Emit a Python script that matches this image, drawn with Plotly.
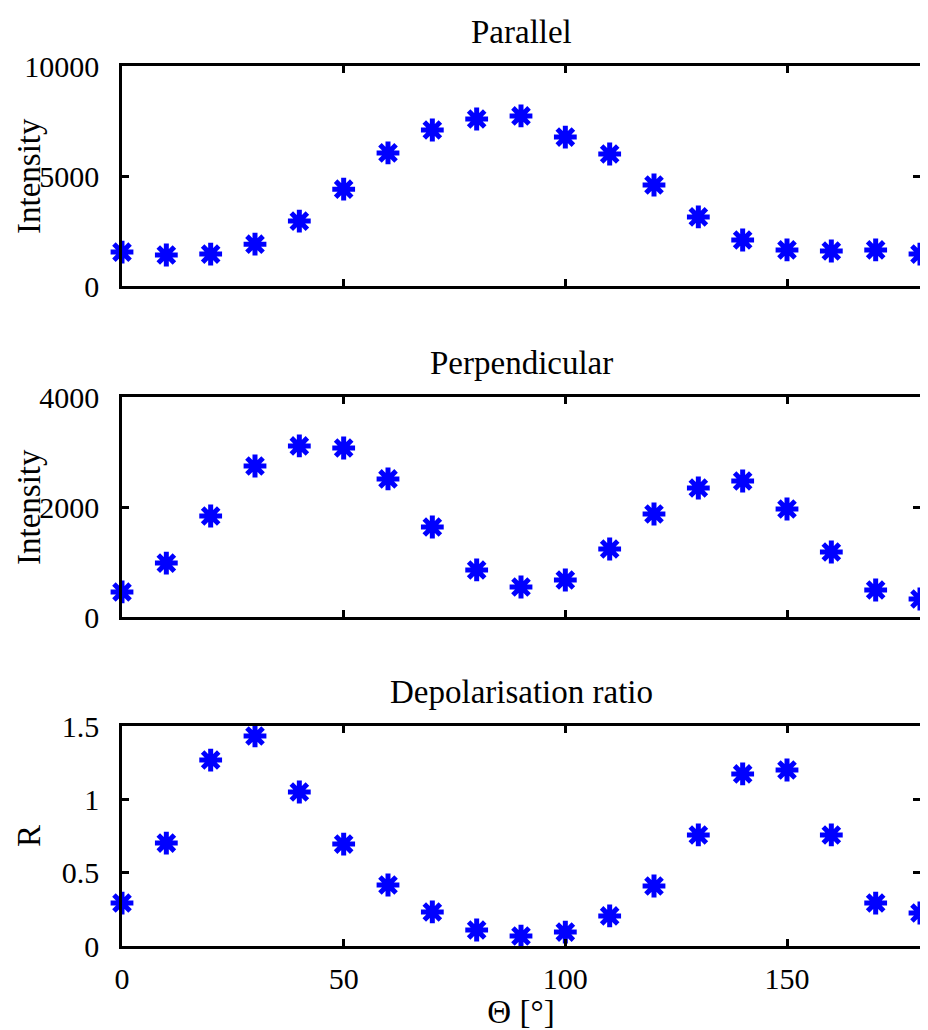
import plotly.graph_objects as go

theta = [0, 10, 20, 30, 40, 50, 60, 70, 80, 90, 100, 110, 120, 130, 140, 150, 160, 170, 180]
parallel = [1540, 1410, 1450, 1900, 2950, 4400, 6050, 7090, 7590, 7730, 6770, 6000, 4590, 3140, 2090, 1640, 1590, 1640, 1450]
perpendicular = [455, 980, 1836, 2745, 3110, 3073, 2510, 1636, 855, 545, 673, 1236, 1873, 2345, 2473, 1964, 1182, 491, 327]
ratio = [0.293, 0.702, 1.268, 1.432, 1.05, 0.695, 0.416, 0.232, 0.109, 0.068, 0.095, 0.205, 0.409, 0.757, 1.173, 1.2, 0.757, 0.293, 0.225]

titles = ["Parallel", "Perpendicular", "Depolarisation ratio"]
ylabels = ["Intensity", "Intensity", "R"]
yranges = [[0, 10000], [0, 4000], [0, 1.5]]
yticks = [[0, 5000, 10000], [0, 2000, 4000], [0, 0.5, 1, 1.5]]
yticktext = [["0", "5000", "10000"], ["0", "2000", "4000"], ["0", "0.5", "1", "1.5"]]
xticks = [0, 50, 100, 150]
xlabel = "Θ [°]"

FONT = "Liberation Serif"
TICK = 30
LAB = 33
fig = go.Figure()

# page has an 8px body margin; figure is 920x1022 so it fits the window
H = 1022
T, B = 58, 84
ph = H - T - B  # 880
def dom(top_abs, bot_abs):
    top = 1 - (top_abs - 8 - T) / ph
    bot = 1 - (bot_abs - 8 - T) / ph
    return [max(0.0, bot), min(1.0, top)]

domains = [dom(66, 286), dom(397, 617), dom(726, 946)]
series = [parallel, perpendicular, ratio]

for i in range(3):
    xa = "x" if i == 0 else f"x{i+1}"
    ya = "y" if i == 0 else f"y{i+1}"
    fig.add_trace(go.Scatter(
        x=theta, y=series[i], mode="markers", xaxis=xa, yaxis=ya,
        marker=dict(symbol="asterisk-open", size=19, color="blue",
                    line=dict(color="blue", width=5)),
        cliponaxis=False, showlegend=False))
    axis_common = dict(showline=True, linecolor="black", linewidth=2.5, mirror="ticks",
                       ticks="inside", ticklen=7, tickwidth=2.5, tickcolor="black",
                       showgrid=False, zeroline=False, automargin=False,
                       tickfont=dict(family=FONT, size=TICK, color="black"))
    xkey = "xaxis" if i == 0 else f"xaxis{i+1}"
    ykey = "yaxis" if i == 0 else f"yaxis{i+1}"
    xcfg = dict(axis_common, range=[0, 180], tickvals=xticks,
                ticktext=[str(v) for v in xticks], showticklabels=(i == 2),
                anchor=ya, domain=[0, 1], ticklabelstandoff=4)
    if i == 2:
        xcfg["title"] = dict(text=xlabel, font=dict(family=FONT, size=LAB, color="black"), standoff=0)
    ycfg = dict(axis_common, range=yranges[i], tickvals=yticks[i], ticktext=yticktext[i],
                anchor=xa, domain=domains[i], ticklabelstandoff=14)
    fig.update_layout({xkey: xcfg, ykey: ycfg})
    # y-axis title
    fig.add_annotation(text=ylabels[i], xref="paper", yref="paper", x=0,
                       y=(domains[i][0] + domains[i][1]) / 2, xshift=-93,
                       xanchor="center", yanchor="middle", textangle=-90, showarrow=False,
                       font=dict(family=FONT, size=LAB, color="black"))
    # panel title
    fig.add_annotation(text=titles[i], xref="paper", yref="paper", x=0.5, y=domains[i][1],
                       yshift=14, yanchor="bottom", showarrow=False,
                       font=dict(family=FONT, size=LAB, color="black"))

fig.update_layout(width=920, height=H, margin=dict(l=114, r=8, t=T, b=B),
                  plot_bgcolor="white", paper_bgcolor="white")
fig.write_html("out.html")
